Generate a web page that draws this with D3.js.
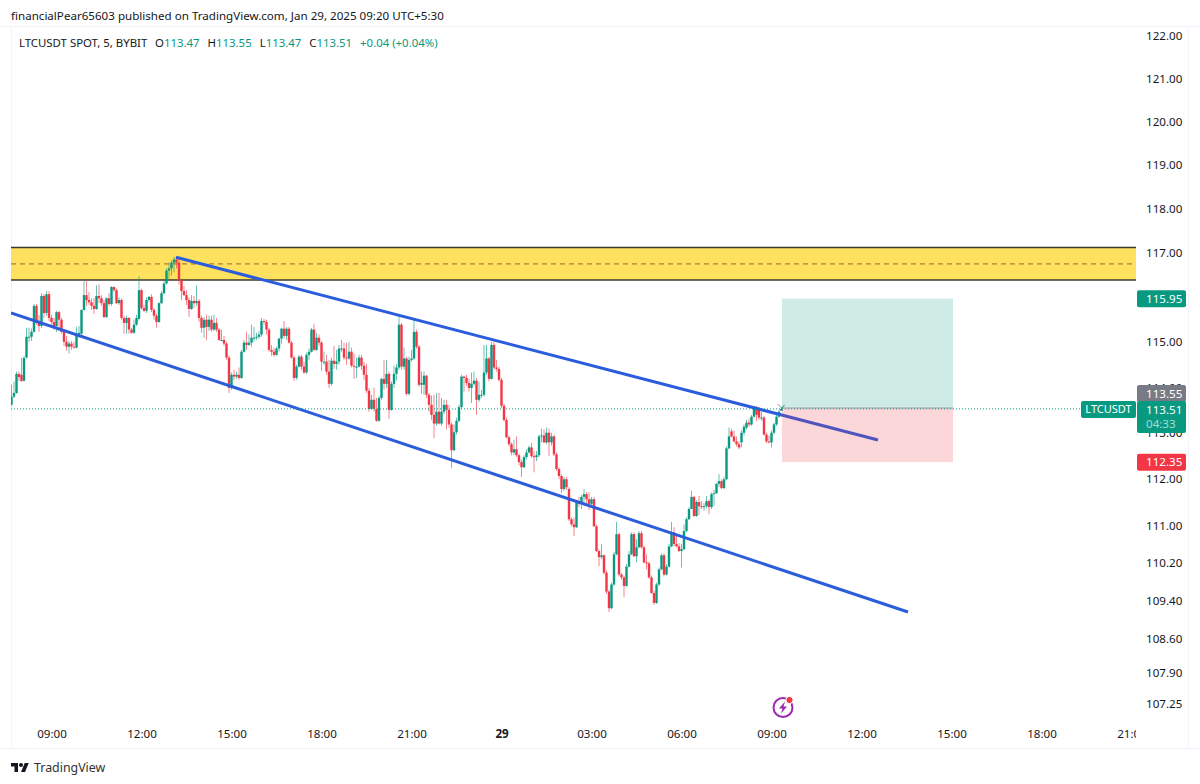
<!DOCTYPE html>
<html>
<head>
<meta charset="utf-8">
<script src="https://cdn.jsdelivr.net/npm/d3@7"></script>
<style>
  html, body { margin: 0; padding: 0; background: #fff; }
  text { font-family: "Noto Sans", sans-serif; }
</style>
</head>
<body>
<svg id="chart" width="1200" height="784"></svg>
<script>
const opens = [
  113.60,113.78,113.86,114.28,114.26,114.13,114.64,115.10,115.10,115.21,
  115.79,115.41,115.34,116.01,115.63,116.05,115.52,115.43,115.34,115.65,
  115.48,115.21,114.99,114.88,114.95,114.88,114.86,115.15,115.17,115.70,
  116.03,115.92,115.87,115.79,115.72,116.01,115.96,115.85,115.54,115.96,
  115.83,116.21,116.14,115.85,115.92,115.52,115.41,115.52,115.26,115.19,
  115.37,115.50,116.14,115.74,115.68,115.92,115.99,115.70,115.57,115.43,
  115.85,116.07,116.29,116.58,116.63,116.76,116.83,116.76,116.36,116.12,
  116.03,115.92,115.72,115.90,115.85,115.90,115.52,115.30,115.48,115.32,
  115.48,115.26,115.41,115.26,115.03,115.03,114.95,114.64,113.97,114.26,
  114.22,114.26,114.19,114.77,114.97,114.92,114.97,115.08,115.08,115.10,
  115.15,115.45,115.43,115.26,114.81,114.77,114.70,114.84,115.06,115.28,
  115.12,115.28,114.97,114.64,114.19,114.44,114.66,114.44,114.31,114.70,
  114.77,115.26,114.81,115.08,114.97,114.55,114.55,114.33,114.06,114.57,
  114.50,114.55,114.84,114.84,114.64,114.62,114.77,114.46,114.44,114.44,
  114.64,114.46,114.26,113.91,113.51,113.71,113.51,113.25,113.75,114.17,
  114.06,114.28,113.49,114.06,114.28,114.42,115.37,114.44,114.62,113.84,
  114.59,114.62,115.21,114.88,114.04,114.04,114.24,113.82,113.60,113.38,
  113.19,113.45,113.19,113.45,113.60,113.49,113.17,112.61,113.00,113.25,
  113.55,114.22,114.19,114.08,113.97,114.06,114.13,113.71,113.82,113.82,
  114.31,114.62,114.17,114.92,114.42,114.39,114.15,113.58,113.27,112.89,
  112.74,112.56,112.63,112.50,112.35,112.24,112.46,112.56,112.67,112.48,
  112.46,112.50,112.91,112.93,112.78,112.99,112.78,112.91,112.52,112.20,
  112.05,111.77,111.98,111.77,111.12,111.01,110.95,111.49,111.45,111.60,
  111.66,111.55,111.45,111.55,110.97,110.44,110.31,110.35,109.98,109.58,
  109.23,109.73,110.37,110.80,109.94,109.88,109.70,110.11,110.37,110.80,
  110.33,110.52,110.82,110.52,110.20,110.18,109.88,109.55,109.34,109.73,
  110.05,110.35,109.94,110.11,110.54,110.84,110.59,110.54,110.44,110.48,
  110.87,111.12,111.34,111.60,111.19,111.49,111.40,111.38,111.40,111.51,
  111.38,111.66,111.68,111.88,111.94,111.79,111.98,112.65,113.02,112.91,
  112.80,112.74,112.78,112.99,113.10,113.21,113.17,113.34,113.53,113.51,
  113.32,113.32,112.95,112.80,112.78,112.99,113.17,113.34,113.47
];
const closes = [
  113.78,113.86,114.28,114.21,114.12,114.63,115.10,115.10,115.21,115.79,
  115.41,115.34,116.01,115.63,116.05,115.52,115.43,115.34,115.65,115.48,
  115.21,114.99,114.88,114.95,114.88,114.86,115.15,115.19,115.70,116.03,
  115.92,115.87,115.79,115.72,116.01,115.96,115.85,115.54,115.96,115.83,
  116.21,116.14,115.85,115.92,115.52,115.41,115.52,115.26,115.19,115.37,
  115.52,116.14,115.74,115.68,115.92,115.99,115.70,115.57,115.43,115.85,
  116.07,116.29,116.58,116.63,116.76,116.83,116.76,116.36,116.12,116.03,
  115.92,115.72,115.90,115.85,115.90,115.52,115.30,115.48,115.32,115.48,
  115.26,115.41,115.26,115.03,115.03,114.95,114.64,113.97,114.26,114.22,
  114.26,114.19,114.77,114.97,114.92,114.97,115.08,115.08,115.10,115.15,
  115.45,115.43,115.26,114.81,114.77,114.70,114.84,115.06,115.28,115.12,
  115.28,114.97,114.64,114.19,114.44,114.66,114.44,114.31,114.70,114.77,
  115.26,114.81,115.08,114.97,114.55,114.55,114.33,114.06,114.57,114.50,
  114.55,114.84,114.84,114.64,114.62,114.77,114.46,114.44,114.44,114.64,
  114.46,114.26,113.91,113.51,113.71,113.51,113.25,113.75,114.17,114.06,
  114.28,113.49,114.06,114.28,114.42,115.37,114.44,114.62,113.84,114.59,
  114.62,115.21,114.88,114.04,114.08,114.24,113.82,113.60,113.38,113.19,
  113.45,113.19,113.45,113.60,113.49,113.17,112.61,113.00,113.25,113.55,
  114.22,114.19,114.08,113.97,114.06,114.13,113.71,113.82,113.82,114.31,
  114.62,114.17,114.92,114.42,114.39,114.15,113.58,113.27,112.89,112.74,
  112.56,112.63,112.50,112.35,112.24,112.46,112.56,112.67,112.48,112.46,
  112.50,112.91,112.93,112.78,112.99,112.78,112.91,112.52,112.20,112.05,
  111.77,111.98,111.81,111.12,111.01,110.95,111.49,111.45,111.60,111.66,
  111.55,111.45,111.55,110.97,110.44,110.31,110.35,109.98,109.58,109.23,
  109.73,110.37,110.80,109.94,109.88,109.70,110.11,110.37,110.80,110.33,
  110.52,110.82,110.52,110.20,110.18,109.88,109.55,109.34,109.73,110.05,
  110.35,109.94,110.11,110.54,110.84,110.59,110.54,110.44,110.48,110.87,
  111.12,111.34,111.60,111.19,111.49,111.40,111.38,111.40,111.51,111.38,
  111.66,111.68,111.88,111.94,111.79,111.98,112.65,112.91,112.91,112.80,
  112.74,112.67,112.99,113.12,113.21,113.17,113.34,113.53,113.38,113.32,
  113.32,112.95,112.80,112.78,112.99,113.17,113.34,113.45,113.51
];
const highs = [
  114.04,114.11,114.33,114.33,114.64,114.68,115.30,115.30,115.28,115.83,
  115.83,115.59,116.07,116.05,116.12,116.12,115.59,115.52,115.68,115.68,
  115.52,115.26,115.12,115.01,115.01,114.99,115.32,115.34,115.70,116.34,
  116.34,116.10,115.96,115.96,116.25,116.27,116.03,115.92,115.98,116.07,
  116.23,116.23,116.18,115.98,115.96,115.57,115.57,115.54,115.30,115.48,
  115.59,116.45,116.18,115.81,115.98,116.01,116.05,115.74,115.61,115.87,
  116.12,116.34,116.63,116.76,116.80,116.89,116.87,116.85,116.40,116.23,
  116.14,115.98,116.03,116.01,116.25,115.94,115.57,115.54,115.59,115.57,
  115.57,115.59,115.52,115.30,115.26,115.12,114.99,114.68,114.31,114.37,
  114.33,114.42,114.81,115.03,115.21,115.15,115.37,115.32,115.19,115.23,
  115.52,115.50,115.48,115.30,114.92,114.86,114.88,115.08,115.30,115.45,
  115.32,115.32,115.01,114.68,114.48,114.70,114.70,114.55,114.75,114.84,
  115.30,115.39,115.19,115.15,115.01,114.77,114.70,114.59,114.64,114.90,
  114.81,114.92,115.03,114.97,114.97,114.99,114.86,114.73,114.64,114.70,
  114.70,114.55,114.50,113.97,113.82,113.97,113.75,113.80,114.19,114.59,
  114.59,114.33,114.11,114.46,114.50,115.57,115.41,114.86,114.66,114.66,
  114.81,115.50,115.26,114.92,114.33,114.33,114.26,113.86,113.80,113.82,
  113.86,113.86,113.75,113.71,113.71,113.60,113.21,113.17,113.32,113.60,
  114.26,114.24,114.26,114.17,114.31,114.33,114.19,114.11,113.93,114.92,
  114.92,114.66,114.99,114.99,114.59,114.44,114.19,113.62,113.32,112.93,
  112.78,112.84,112.91,112.54,112.41,112.50,112.63,112.71,112.76,112.59,
  112.59,112.95,113.08,113.06,113.10,113.08,112.99,112.95,112.56,112.24,
  112.09,112.03,112.03,111.81,111.16,111.16,111.53,111.60,111.64,111.77,
  111.70,111.70,111.60,111.60,111.01,110.48,110.59,110.37,110.03,109.62,
  109.77,110.42,111.06,110.84,109.98,109.92,110.16,110.44,110.84,110.84,
  110.69,110.87,110.87,110.56,110.37,110.22,109.92,109.60,109.77,110.09,
  110.39,110.39,110.16,110.59,111.06,110.95,110.80,110.61,110.59,111.01,
  111.16,111.38,111.73,111.62,111.53,111.62,111.51,111.47,111.62,111.55,
  111.70,111.75,111.90,112.09,111.98,112.03,112.69,113.10,113.08,113.04,
  112.91,112.80,113.04,113.17,113.27,113.30,113.38,113.58,113.58,113.55,
  113.45,113.36,112.99,112.93,113.04,113.21,113.38,113.49,113.55
];
const lows = [
  113.58,113.75,113.84,114.13,114.11,114.11,114.62,114.99,115.01,115.19,
  115.37,115.21,115.30,115.52,115.57,115.45,115.37,115.26,115.21,115.23,
  115.17,114.90,114.79,114.73,114.81,114.84,114.84,115.08,115.12,115.68,
  115.79,115.81,115.70,115.61,115.70,115.85,115.79,115.52,115.52,115.79,
  115.79,116.10,115.83,115.81,115.48,115.17,115.17,115.17,115.17,115.17,
  115.34,115.46,115.70,115.65,115.63,115.87,115.65,115.48,115.30,115.41,
  115.83,116.05,116.27,116.40,116.47,116.54,116.63,116.27,115.92,116.01,
  115.81,115.54,115.70,115.74,115.79,115.43,115.19,115.08,115.03,115.23,
  115.21,115.23,115.21,115.01,115.01,114.90,114.59,113.86,113.93,114.13,
  114.17,114.15,114.17,114.75,114.81,114.90,114.88,114.99,115.03,115.06,
  115.10,115.37,115.15,114.77,114.68,114.66,114.68,114.77,114.95,115.06,
  115.03,114.95,114.62,114.13,114.15,114.42,114.37,114.28,114.28,114.59,
  114.75,114.79,114.79,114.90,114.35,114.48,114.26,113.97,114.02,114.39,
  114.37,114.48,114.77,114.59,114.48,114.59,114.42,114.17,114.19,114.42,
  114.37,114.15,113.86,113.45,113.49,113.45,113.23,113.23,113.71,113.93,
  113.97,113.29,113.47,113.97,114.13,114.37,114.37,114.37,113.80,113.80,
  114.55,114.59,114.84,114.00,113.84,113.82,113.75,113.45,113.27,112.87,
  113.14,113.17,113.14,113.40,113.06,113.10,112.22,112.59,112.95,113.21,
  113.51,113.89,114.02,113.89,113.64,114.02,113.38,113.66,113.75,113.78,
  114.26,114.11,114.15,114.37,114.33,114.11,113.53,113.23,112.87,112.69,
  112.50,112.50,112.46,112.28,112.03,112.22,112.41,112.54,112.44,112.13,
  112.37,112.46,112.78,112.76,112.74,112.48,112.71,112.48,112.16,111.98,
  111.68,111.73,111.75,111.08,110.97,110.76,110.93,111.38,111.34,111.45,
  111.40,111.32,111.38,110.95,110.42,110.12,110.27,109.94,109.53,109.15,
  109.21,109.70,110.35,109.90,109.83,109.47,109.68,110.09,110.35,110.31,
  110.20,110.50,110.50,110.18,110.05,109.85,109.53,109.30,109.32,109.70,
  110.03,109.90,109.92,110.09,110.52,110.54,110.52,110.42,110.09,110.46,
  110.84,111.10,111.34,111.17,111.17,111.21,111.34,111.30,111.36,111.23,
  111.34,111.40,111.66,111.81,111.77,111.77,111.96,112.63,112.89,112.78,
  112.69,112.63,112.67,112.93,113.06,113.12,113.14,113.32,113.25,113.27,
  113.25,112.93,112.76,112.76,112.67,112.95,113.14,113.32,113.47
];

const priceTicks = [122, 121, 120, 119, 118, 117, 115, 114, 113, 112, 111, 110.2, 109.4, 108.6, 107.9, 107.25];
const timeLabels = ['09:00', '12:00', '15:00', '18:00', '21:00', '29', '03:00', '06:00', '09:00', '12:00', '15:00', '18:00', '21:00'];
const barsPerLabel = 36;
const firstLabelBar = 16;

// drawn levels, [bar, price]
const upperTrend = [[65.8, 116.88], [346.6, 112.83]];
const lowerTrend = [[-0.2, 115.63], [358.6, 109.15]];
const zoneTop = 117.10, zoneMid = 116.73, zoneBottom = 116.37;
const takeProfit = 115.95, entryPrice = 113.53, stopLoss = 112.35;
const positionBars = [308.2, 376.6];

const legendNames = ['O', 'H', 'L', 'C'];
const legendValues = ['113.47', '113.55', '113.47', '113.51'];

const green = '#089981', red = '#f23645', ink = '#131722', rule = '#f0f3fa';

const svg = d3.select('#chart');
const plotRight = 1136, axisRight = 1188;

const x = d3.scaleLinear().domain([0, closes.length - 1]).range([11.5, 781.5]);
const y = d3.scaleLog().domain([107.25, 122]).range([703, 35]);

const defs = svg.append('defs');
defs.append('clipPath').attr('id', 'plot')
  .append('rect').attr('x', 11).attr('y', 27).attr('width', plotRight - 11).attr('height', 721);

// frame
svg.append('path')
  .attr('d', `M0,26.5H${axisRight + 12}M11.5,27V748M0,748.5H${axisRight + 12}M${axisRight + 0.5},27V748`)
  .attr('fill', 'none').attr('stroke', rule);

const plot = svg.append('g').attr('clip-path', 'url(#plot)');

// supply zone
plot.append('rect')
  .attr('x', 11).attr('width', plotRight - 11)
  .attr('y', y(zoneTop)).attr('height', y(zoneBottom) - y(zoneTop))
  .attr('fill', '#fde15f');
plot.selectAll('line.zone').data([zoneTop, zoneBottom]).join('line')
  .attr('class', 'zone')
  .attr('x1', 11).attr('x2', plotRight)
  .attr('y1', d => y(d)).attr('y2', d => y(d))
  .attr('stroke', '#3d3a2c').attr('stroke-width', 1.5);
plot.append('line')
  .attr('x1', 11).attr('x2', plotRight).attr('y1', y(zoneMid)).attr('y2', y(zoneMid))
  .attr('stroke', '#a8602c').attr('stroke-width', 1).attr('stroke-dasharray', '5,4');

// candles
const bars = d3.range(closes.length);
const barColor = i => closes[i] >= opens[i] ? green : red;
plot.append('g').selectAll('line').data(bars).join('line')
  .attr('x1', i => x(i)).attr('x2', i => x(i))
  .attr('y1', i => y(highs[i])).attr('y2', i => y(lows[i]))
  .attr('stroke', barColor).attr('stroke-width', 1).attr('opacity', 0.6);
plot.append('g').selectAll('rect').data(bars).join('rect')
  .attr('x', i => x(i) - 1.2).attr('width', 2.4)
  .attr('y', i => y(Math.max(opens[i], closes[i])))
  .attr('height', i => Math.max(1, Math.abs(y(opens[i]) - y(closes[i]))))
  .attr('fill', barColor);

// trend lines
const trend = d3.line().x(d => x(d[0])).y(d => y(d[1]));
plot.selectAll('path.trend').data([upperTrend, lowerTrend]).join('path')
  .attr('class', 'trend')
  .attr('d', trend)
  .attr('fill', 'none').attr('stroke', '#2b5cdc').attr('stroke-width', 3);

// long position tool sits over the trend line
const posX = x(positionBars[0]), posW = x(positionBars[1]) - posX;
plot.append('rect')
  .attr('x', posX).attr('width', posW)
  .attr('y', y(takeProfit)).attr('height', y(entryPrice) - y(takeProfit))
  .attr('fill', green).attr('fill-opacity', 0.2);
plot.append('rect')
  .attr('x', posX).attr('width', posW)
  .attr('y', y(entryPrice)).attr('height', y(stopLoss) - y(entryPrice))
  .attr('fill', red).attr('fill-opacity', 0.2);
plot.append('line')
  .attr('x1', posX).attr('x2', posX + posW).attr('y1', y(entryPrice)).attr('y2', y(entryPrice))
  .attr('stroke', '#9a9ea8').attr('stroke-width', 1);

// last price line
const lastClose = closes[closes.length - 1];
plot.append('line')
  .attr('x1', 11).attr('x2', plotRight)
  .attr('y1', y(lastClose)).attr('y2', y(lastClose))
  .attr('stroke', green).attr('stroke-width', 1).attr('stroke-dasharray', '1,2');

// little cross left by the position tool handle
const lastX = x(closes.length - 1), lastY = y(lastClose);
plot.append('path')
  .attr('d', `M${lastX - 4},${lastY - 5}L${lastX},${lastY - 1}`)
  .attr('fill', 'none').attr('stroke', '#8a8f9a');
plot.append('path')
  .attr('d', `M${lastX + 3},${lastY - 4}L${lastX - 1},${lastY + 1}`)
  .attr('fill', 'none').attr('stroke', green);

// price axis
const yAxis = d3.axisRight(y)
  .tickValues(priceTicks)
  .tickFormat(d3.format('.2f'))
  .tickSize(0).tickPadding(0);
const yAxisG = svg.append('g').attr('transform', 'translate(1146,0.8)').call(yAxis);
yAxisG.select('.domain').remove();
yAxisG.selectAll('text').attr('fill', ink).attr('font-size', 11.6)
  .style('font-family', '"Noto Sans", sans-serif');

// time axis, clipped at the price scale
const timeAxis = d3.axisBottom(x)
  .tickValues(timeLabels.map((d, i) => firstLabelBar + i * barsPerLabel))
  .tickFormat((d, i) => timeLabels[i])
  .tickSize(0).tickPadding(0);
const timeG = svg.append('g').attr('clip-path', 'url(#plot)')
  .append('g').attr('transform', 'translate(0,729.5)').call(timeAxis);
timeG.select('.domain').remove();
timeG.selectAll('text').attr('fill', ink).attr('font-size', 11.6)
  .style('font-family', '"Noto Sans", sans-serif')
  .attr('font-weight', d => d === firstLabelBar + 5 * barsPerLabel ? 700 : 400);

// price tags
function tag(xPos, yTop, w, h, fill) {
  svg.append('rect').attr('x', xPos).attr('y', yTop).attr('width', w).attr('height', h)
    .attr('rx', 2).attr('fill', fill);
}
function tagText(xPos, yMid, s, fill, anchor, size) {
  svg.append('text').attr('x', xPos).attr('y', yMid).attr('dy', '0.35em')
    .attr('text-anchor', anchor || 'start').attr('font-size', size || 11.6).attr('fill', fill).text(s);
}
const tagX = 1137, tagW = 49;
tag(tagX, y(takeProfit) - 8.5, tagW, 17, green);
tagText(tagX + 9, y(takeProfit), '115.95', '#fff');
tag(tagX, y(stopLoss) - 8.5, tagW, 17, red);
tagText(tagX + 9, y(stopLoss), '112.35', '#fff');
tag(tagX, 385, tagW, 17, '#787b86');
tagText(tagX + 9, 393.5, '113.55', '#fff');
tag(tagX, 401, tagW, 32, green);
tagText(tagX + 9, 410, '113.51', '#fff');
tagText(tagX + 9, 424, '04:33', '#a8dcd2');
tag(1081, 401, 55, 17, green);
tagText(1108.5, 409.5, 'LTCUSDT', '#fff', 'middle', 11);

// header
svg.append('text').attr('x', 11).attr('y', 20).attr('font-size', 11.6).attr('fill', ink)
  .text('financialPear65603 published on TradingView.com, Jan 29, 2025 09:20 UTC+5:30');

const legend = svg.append('text').attr('x', 19).attr('y', 47).attr('font-size', 11.4).attr('fill', ink);
legend.append('tspan').text('LTCUSDT SPOT, 5, BYBIT');
legendNames.forEach((n, i) => {
  legend.append('tspan').attr('dx', 8).text(n);
  legend.append('tspan').attr('fill', green).text(legendValues[i]);
});
legend.append('tspan').attr('dx', 8).attr('fill', green).text('+0.04 (+0.04%)');

// events icon
const icon = svg.append('g').attr('transform', 'translate(783,707.5)');
icon.append('circle').attr('r', 9.5).attr('fill', '#fff').attr('stroke', '#9c27b0').attr('stroke-width', 2);
icon.append('path').attr('d', 'M2,-6L-4,1H-0.5L-2,6L4,-1H0.5Z').attr('fill', '#9c27b0');
icon.append('circle').attr('cx', 6.5).attr('cy', -7.5).attr('r', 3.6).attr('fill', '#f23645').attr('stroke', '#fff');

// footer logo
const logo = svg.append('g').attr('transform', 'translate(11,761) scale(0.5)').attr('fill', '#131722');
logo.append('path').attr('d', 'M14 22H7V11H0V4h14v18zM28 22h-8l7.5-18h8L28 22z');
logo.append('circle').attr('cx', 20).attr('cy', 8).attr('r', 4);
svg.append('text').attr('x', 34).attr('y', 772).attr('font-size', 12.4).attr('fill', '#333').text('TradingView');
</script>
</body>
</html>
